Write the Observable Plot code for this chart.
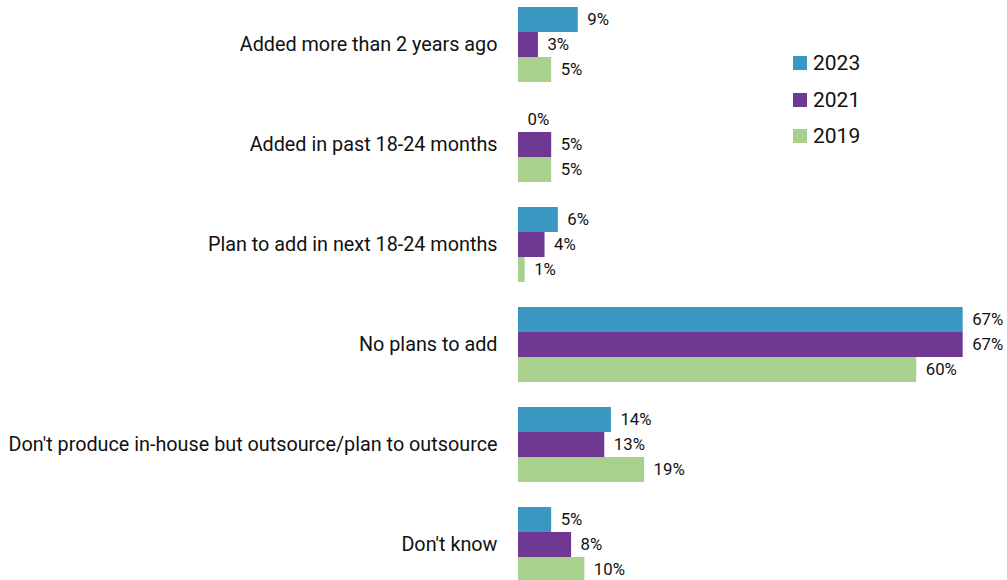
<!DOCTYPE html>
<html>
<head>
<meta charset="utf-8">
<script src="https://cdn.jsdelivr.net/npm/d3@7"></script>
<script src="https://cdn.jsdelivr.net/npm/@observablehq/plot@0.6"></script>
<style>
  html, body { margin: 0; padding: 0; background: #fff; }
  #wrap { position: relative; width: 1007px; height: 580px; overflow: hidden; }
  #legend { position: absolute; left: 793px; top: 45px; font-family: "Roboto", "DejaVu Sans Condensed", sans-serif; font-size: 21px; color: #111; }
  #legend .item { display: flex; align-items: center; height: 36.5px; }
  #legend .sw { width: 14px; height: 14px; margin-right: 6px; }
</style>
</head>
<body>
<div id="wrap"><div id="chart"></div><div id="legend"></div></div>
<script>
const categories = [
  "Added more than 2 years ago",
  "Added in past 18-24 months",
  "Plan to add in next 18-24 months",
  "No plans to add",
  "Don't produce in-house but outsource/plan to outsource",
  "Don't know"
];
const years = ["2023", "2021", "2019"];
const colors = ["#3a97c1", "#6f3893", "#a9d18e"];
const v2023 = [9, 0, 6, 67, 14, 5];
const v2021 = [3, 5, 4, 67, 13, 8];
const v2019 = [5, 5, 1, 60, 19, 10];
const series = [v2023, v2021, v2019];

const font = "Roboto, 'DejaVu Sans Condensed', sans-serif";
const offsets = [-25, 0, 25];

const marks = [];
series.forEach((vals, i) => {
  const data = categories.map((c, j) => ({category: c, value: vals[j], year: years[i]}));
  marks.push(Plot.barX(data, {x: "value", y: "category", fill: colors[i], dy: offsets[i]}));
  marks.push(Plot.text(data, {x: "value", y: "category", text: d => d.value + "%", dy: offsets[i], dx: 9,
    textAnchor: "start", fill: "#111", fontSize: 16.8}));
});
// category labels, placed left of the zero baseline
marks.push(Plot.text(categories, {x: () => 0, y: d => d, text: d => d, dx: -21, textAnchor: "end",
  fill: "#111", fontSize: 19.8}));

const chart = Plot.plot({
  width: 1007,
  height: 580,
  marginLeft: 0,
  marginRight: 0,
  marginTop: 0,
  marginBottom: 0,
  style: {fontFamily: font, background: "#fff", color: "#111"},
  x: {domain: [0, 100], range: [518, 518 + 663.7], axis: null},
  y: {domain: categories, range: [-5.5, 594.5], paddingInner: 0.75, paddingOuter: 0.375, axis: null},
  marks
});
document.getElementById("chart").appendChild(chart);

const legend = document.getElementById("legend");
years.forEach((y, i) => {
  const item = document.createElement("div");
  item.className = "item";
  item.innerHTML = `<span class="sw" style="background:${colors[i]}"></span><span>${y}</span>`;
  legend.appendChild(item);
});
</script>
</body>
</html>
